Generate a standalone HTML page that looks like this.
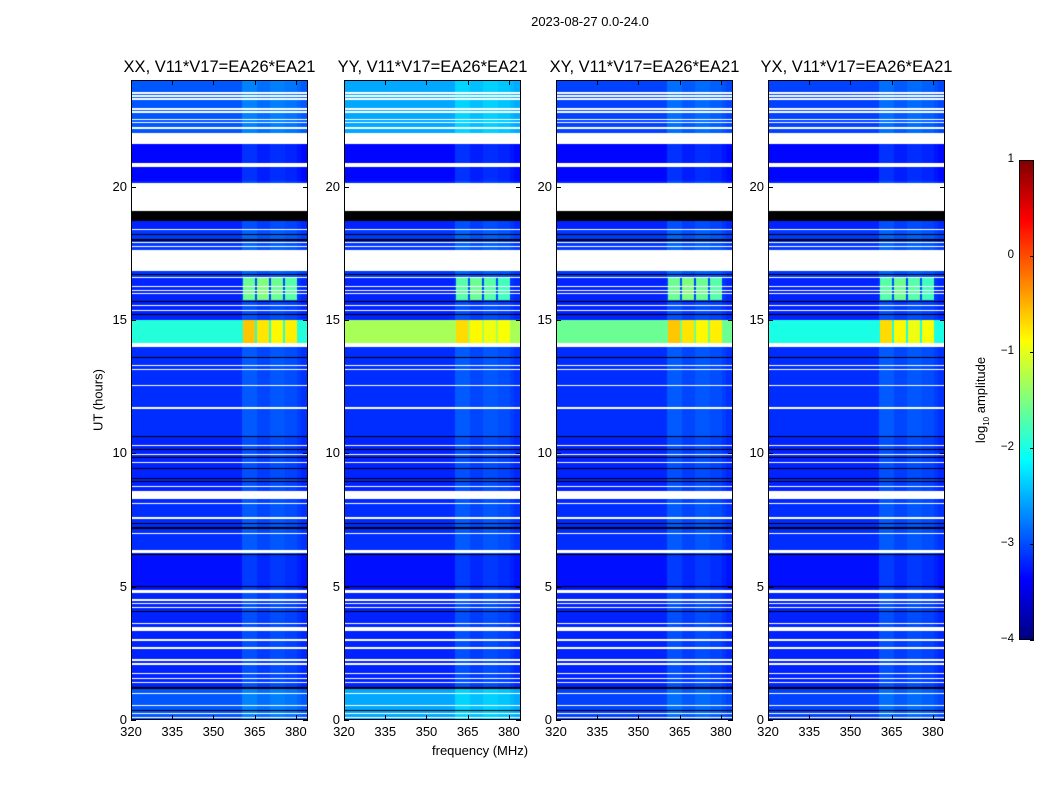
<!DOCTYPE html>
<html><head><meta charset="utf-8">
<style>
body{margin:0;background:#fff;font-family:"Liberation Sans","DejaVu Sans",sans-serif;}
#root{position:relative;width:1050px;height:800px;overflow:hidden;background:#fff;}
.t{position:absolute;font-size:13px;color:#000;white-space:nowrap;}
.title{position:absolute;font-size:16.5px;color:#000;white-space:nowrap;text-align:center;}
canvas{position:absolute;}
</style></head>
<body>
<div id="root">
<div class="t" style="left:0;width:1180px;text-align:center;top:14px;">2023-08-27 0.0-24.0</div>
<div class="t" style="top:400px;transform:translate(-50%,-50%) rotate(-90deg);transform-origin:center;left:98px;">UT (hours)</div>
<div class="t" style="left:432px;top:743px;">frequency (MHz)</div>
<div class="t" style="left:982px;top:400px;transform:translate(-50%,-50%) rotate(-90deg);">log<sub style="font-size:8px">10</sub> amplitude</div>
</div>
<script>
// ---- data ----
const panelTitles = ["XX, V11*V17=EA26*EA21","YY, V11*V17=EA26*EA21","XY, V11*V17=EA26*EA21","YX, V11*V17=EA26*EA21"];
const panelLefts = [131,344,556,768];
const xTicks = [320,335,350,365,380];
const yTicks = [0,5,10,15,20];
const cbTicks = [-4,-3,-2,-1,0,1];
const whiteBands = [[23.48,23.55],[23.36,23.42],[23.26,23.31],[22.88,22.94],[22.77,22.82],[22.5,22.55],[22.37,22.42],[22.18,22.24],
 [21.6,22.0],[20.75,20.9],[19.07,20.15],[18.38,18.42],[17.88,17.93],[17.73,17.78],[16.85,17.64],[16.56,16.6],[16.23,16.27],[16.08,16.12],
 [15.97,16.01],[15.53,15.57],[15.33,15.37],[13.97,14.15],[13.28,13.32],[13.13,13.17],[12.53,12.57],[11.68,11.72],[10.28,10.32],[9.94,9.98],
 [9.64,9.68],[8.74,8.78],[8.3,8.58],[8.11,8.15],[7.55,7.62],[6.98,7.02],[6.25,6.37],[4.75,4.87],[4.48,4.52],[4.36,4.4],[4.21,4.25],
 [3.61,3.65],[3.35,3.48],[2.98,3.02],[2.68,2.72],[2.23,2.27],[2.08,2.12],[1.74,1.78],[1.55,1.59],[1.4,1.44],[0.98,1.02],[0.54,0.58],[0.24,0.28],[0.09,0.13]];
const blackBands = [[18.72,19.07],[18.18,18.22],[17.98,18.02],[16.68,16.72],[15.68,15.72],[15.18,15.22],[13.58,13.62],[10.62,10.66],[10.13,10.17],
 [9.83,9.87],[9.42,9.46],[9.04,9.08],[8.93,8.97],[7.36,7.4],[7.18,7.22],[6.18,6.22],[5.0,5.04],[4.06,4.1],[1.18,1.22],[0.35,0.39]];
const rowStart = [0,  1.2, 4.9, 6.2, 8.2, 10.6, 12.5, 14.15, 15.0, 15.7, 16.6, 17.6, 18.4, 20.2, 22.0];
const rowEnd   = [1.2,4.9, 6.2, 8.2, 10.6,12.5, 14.0, 15.0,  15.7, 16.6, 16.85,18.4, 18.7, 21.6, 24.0];
const rowLevel = [-2.95,-3.2,-3.3,-3.15,-3.2,-3.15,-3.15,-1.9,-3.2,-3.2,-3.1,-3.1,-3.2,-3.35,-2.95];
const panelBand = [-1.95,-1.3,-1.6,-2.0];
const panelEdgeBoost = [0.0,0.4,-0.1,-0.1];
const chanStart = [320,360.5,366,370.5,376,380.5,382];
const chanEnd   = [360.5,366,370.5,376,380.5,382,384.4];
const chanBoost = [0,0.22,0.12,0.2,0.15,0.08,0.02];
const blockF0 = [360.7,365.8,370.9,376.0];
const blockF1 = [365.0,370.2,375.3,380.4];
const blockT0 = [14.15,15.75];
const blockT1 = [15.0,16.6];
const blockLevel = [[-0.6,-0.75,-0.85,-0.8],[-1.6,-1.5,-1.6,-1.7]];
const panelBlockAdj = [0,-0.1,0.0,-0.1];

const FMIN=320,FMAX=384.4,TMIN=0,TMAX=24;
const PW=177,PH=640,PT=80;
const root=document.getElementById('root');
function jet(v){
  let x=(v+4)/5; x=Math.max(0,Math.min(1,x));
  const r=Math.max(0,Math.min(1,Math.min(4*x-1.5,-4*x+4.5)));
  const g=Math.max(0,Math.min(1,Math.min(4*x-0.5,-4*x+3.5)));
  const b=Math.max(0,Math.min(1,Math.min(4*x+0.5,-4*x+2.5)));
  return [r*255|0,g*255|0,b*255|0];
}
function xScale(f){return (f-FMIN)/(FMAX-FMIN)*PW;}
function yScale(h){return PH-(h-TMIN)/(TMAX-TMIN)*PH;}
function inBands(b,h){for(const s of b){if(h>=s[0]&&h<s[1])return true;}return false;}
function value(p,h,f){
  let v=-3.2;
  for(let i=0;i<rowStart.length;i++){if(h>=rowStart[i]&&h<rowEnd[i]){v=rowLevel[i];if(i===7)v=panelBand[p];}}
  if(h<1.2||h>22)v+=panelEdgeBoost[p];
  let cb=0;for(let i=0;i<chanStart.length;i++){if(f>=chanStart[i]&&f<chanEnd[i])cb=chanBoost[i];}
  if(!(h>=14.15&&h<15))v+=cb;
  for(let t=0;t<blockT0.length;t++)for(let k=0;k<blockF0.length;k++){
    if(h>=blockT0[t]&&h<blockT1[t]&&f>=blockF0[k]&&f<blockF1[k])v=Math.max(v,blockLevel[t][k]+panelBlockAdj[p]);
  }
  return v;
}
function txt(s,l,t,cls,name,extra){
  const d=document.createElement('div');d.className=cls||'t';d.textContent=s;
  d.style.left=l+'px';d.style.top=t+'px';if(extra)d.style.cssText+=extra;
  
  
  root.appendChild(d);return d;
}
panelLefts.forEach((L,p)=>{
  const c=document.createElement('canvas');c.width=PW;c.height=PH;
  c.style.left=L+'px';c.style.top=PT+'px';
  
  
  root.appendChild(c);
  const ctx=c.getContext('2d');const img=ctx.createImageData(PW,PH);
  for(let py=0;py<PH;py++){
    const h=TMAX-(py+0.5)/PH*(TMAX-TMIN);
    const white=inBands(whiteBands,h),black=inBands(blackBands,h);
    for(let px=0;px<PW;px++){
      const f=FMIN+(px+0.5)/PW*(FMAX-FMIN);
      let col;
      if(white)col=[255,255,255];else if(black)col=[0,0,0];else col=jet(value(p,h,f));
      const o=(py*PW+px)*4;img.data[o]=col[0];img.data[o+1]=col[1];img.data[o+2]=col[2];img.data[o+3]=255;
    }
  }
  ctx.putImageData(img,0,0);
  const fr=document.createElement('div');
  fr.style.cssText='position:absolute;left:'+L+'px;top:'+PT+'px;width:'+(PW-2)+'px;height:'+(PH-2)+'px;border:1px solid #000;';
  
  
  root.appendChild(fr);
  txt(panelTitles[p],L+PW/2,58,'title','panel-title','transform:translateX(-50%);');
  xTicks.forEach(v=>{
    const x=L+xScale(v);
    const tk=document.createElement('div');
    tk.style.cssText='position:absolute;width:1px;background:#000;left:'+x+'px;top:'+(PT+PH-5)+'px;height:5px;';
    
    
    root.appendChild(tk);
    const tk2=tk.cloneNode();tk2.style.top=PT+'px';
    
    
    root.appendChild(tk2);
    txt(String(v),x,724,'t','x-tick-label','transform:translateX(-50%);');
  });
  yTicks.forEach(v=>{
    const y=PT+yScale(v);
    const tk=document.createElement('div');
    tk.style.cssText='position:absolute;height:1px;background:#000;top:'+y+'px;left:'+L+'px;width:5px;';
    
    
    root.appendChild(tk);
    const tk2=tk.cloneNode();tk2.style.left=(L+PW-5)+'px';
    
    
    root.appendChild(tk2);
    txt(String(v),L-4,y-8,'t','y-tick-label','transform:translateX(-100%);');
  });
});
const CBL=1019,CBT=160,CBW=15,CBH=480;
const cb=document.createElement('canvas');cb.width=CBW;cb.height=CBH;
cb.style.left=CBL+'px';cb.style.top=CBT+'px';


root.appendChild(cb);
const cctx=cb.getContext('2d');
for(let y=0;y<CBH;y++){const c=jet(1-(y+0.5)/CBH*5);cctx.fillStyle='rgb('+c+')';cctx.fillRect(0,y,CBW,1);}
const cbf=document.createElement('div');
cbf.style.cssText='position:absolute;left:'+CBL+'px;top:'+CBT+'px;width:'+(CBW-2)+'px;height:'+(CBH-2)+'px;border:1px solid #000;';


root.appendChild(cbf);
cbTicks.forEach(v=>{
  const y=CBT+(1-v)/5*CBH;
  const lab=v<0?'\u2212'+(-v):String(v);
  txt(lab,1014,y-7,'t','colorbar-tick-label','transform:translateX(-100%);font-size:11.5px;');
  const tk=document.createElement('div');
  tk.style.cssText='position:absolute;height:1px;background:#000;top:'+y+'px;left:'+(CBL+CBW-4)+'px;width:4px;';
  
  
  root.appendChild(tk);
});
</script>
</body></html>
